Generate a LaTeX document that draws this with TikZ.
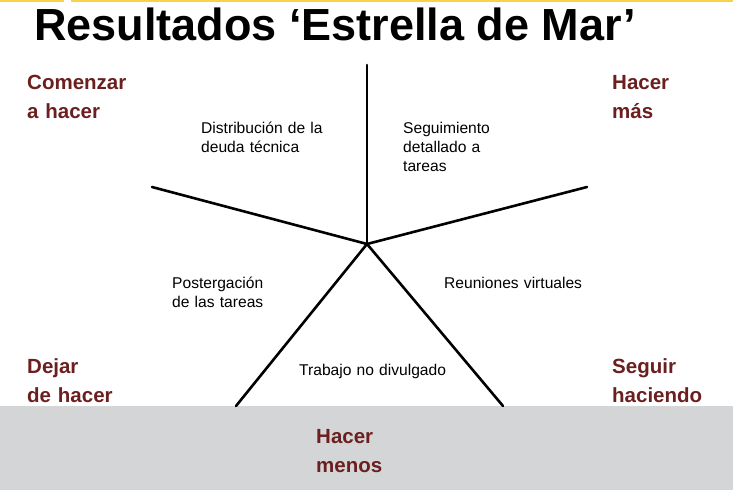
\documentclass[tikz,border=0pt]{standalone}
\usepackage{fontspec}
\setmainfont{Liberation Sans}
\definecolor{lab}{RGB}{107,31,31}
\definecolor{band}{RGB}{212,213,215}
\definecolor{topline}{RGB}{245,211,74}
\tikzset{
  big/.style={anchor=base west, inner sep=0pt, text width=140pt, align=left, text=lab, font=\fontsize{20.5}{29}\selectfont\bfseries},
  small/.style={anchor=base west, inner sep=0pt, text width=170pt, align=left, font=\fontsize{15.6}{19}\selectfont},
  ray/.style={line width=2.6pt, line cap=round}
}
\begin{document}
\begin{tikzpicture}[x=1pt,y=-1pt]
\useasboundingbox (0,0) rectangle (733,490);
\fill[white] (0,0) rectangle (733,490);
\fill[band] (0,406) rectangle (733,490);
\draw[topline, line width=2pt] (0,0.8) -- (64,0.8);
\draw[topline, line width=2pt] (71,0.8) -- (733,0.8);
\node[anchor=base west, inner sep=0pt, font=\fontsize{45}{45}\selectfont\bfseries] (title) at (34,40) {Resultados ‘Estrella de Mar’};
% star
\coordinate (c) at (367,244);
\coordinate (t) at (367,65);
\coordinate (l) at (152,187);
\coordinate (r) at (587,187);
\coordinate (bl) at (236,406);
\coordinate (br) at (503,406);
\draw[ray] (c) -- (t);
\draw[ray] (c) -- (l);
\draw[ray] (c) -- (r);
\draw[ray] (c) -- (bl);
\draw[ray] (c) -- (br);
% corner labels
\node[big] (tl) at (27,89) {Comenzar\\a hacer};
\node[big] (tr) at (612,89) {Hacer\\más};
\node[big] (ml) at (27,373) {Dejar\\de hacer};
\node[big] (mr) at (612,373) {Seguir\\haciendo};
\node[big] (bm) at (316,443) {Hacer\\menos};
% inner texts
\node[small] (d1) at (201,133) {Distribución de la\\deuda técnica};
\node[small] (d2) at (403,133) {Seguimiento\\detallado a\\tareas};
\node[small] (d3) at (172,288) {Postergación\\de las tareas};
\node[small] (d4) at (444,288) {Reuniones virtuales};
\node[small] (d5) at (299,375) {Trabajo no divulgado};
\end{tikzpicture}
\end{document}
